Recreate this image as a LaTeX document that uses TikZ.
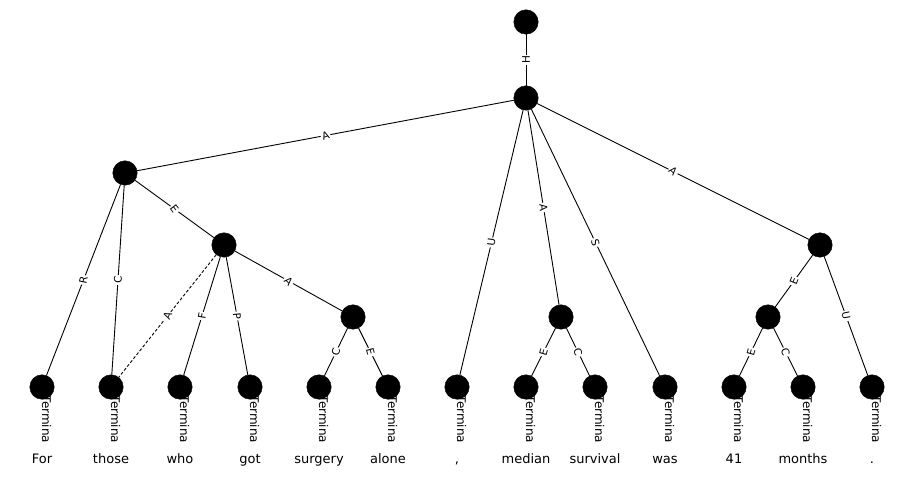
\documentclass[tikz,border=0pt]{standalone}
\usepackage{fontspec}
\setmainfont{DejaVu Sans}
\begin{document}
\begin{tikzpicture}[x=1pt,y=-1pt,
  dot/.style={circle,fill=black,draw=black,minimum size=24.5pt,inner sep=0pt},
  rel/.style={line width=0.9pt},
  lbl/.style={midway,fill=white,inner sep=1.2pt,font=\fontsize{10.5}{11}\selectfont},
  termtag/.style={rotate=-90,anchor=base west,inner sep=0pt,font=\fontsize{12}{12}\selectfont},
  word/.style={anchor=base,inner sep=0pt,font=\fontsize{13}{13}\selectfont}]
\useasboundingbox (0,0) rectangle (914,481);

% terminal tags (drawn first so the circles sit on top)
\foreach \i/\x in {1/42,2/111,3/180,4/250,5/319,6/388,7/457,8/526,9/595,10/665,11/734,12/803,13/872}
  \node[termtag] (tag\i) at (\x,395.5) {Termina};

% words under the leaves
\node[word] (w1)  at (42,463)  {For};
\node[word] (w2)  at (111,463) {those};
\node[word] (w3)  at (180,463) {who};
\node[word] (w4)  at (250,463) {got};
\node[word] (w5)  at (319,463) {surgery};
\node[word] (w6)  at (388,463) {alone};
\node[word] (w7)  at (457,463) {,};
\node[word] (w8)  at (526,463) {median};
\node[word] (w9)  at (595,463) {survival};
\node[word] (w10) at (665,463) {was};
\node[word] (w11) at (734,463) {41};
\node[word] (w12) at (803,463) {months};
\node[word] (w13) at (872,463) {.};

% inner nodes
\node[dot] (top)   at (526,22)  {};
\node[dot] (root)  at (526,98)  {};
\node[dot] (np)    at (125,173) {};
\node[dot] (rc)    at (224,245) {};
\node[dot] (sa)    at (353,317) {};
\node[dot] (ms)    at (561,317) {};
\node[dot] (dur)   at (820,245) {};
\node[dot] (fm)    at (768,317) {};

% leaves
\foreach \i/\x in {1/42,2/111,3/180,4/250,5/319,6/388,7/457,8/526,9/595,10/665,11/734,12/803,13/872}
  \node[dot] (l\i) at (\x,387) {};

% edges with their relation labels
\draw[rel] (top) -- node[lbl,rotate=90] {H} (root);
\draw[rel] (root) -- node[lbl,rotate=18.6] {A} (np);
\draw[rel] (root) -- node[lbl,rotate=82.4] {U} (l7);
\draw[rel] (root) -- node[lbl,rotate=-84.9] {A} (ms);
\draw[rel] (root) -- node[lbl,rotate=-75] {S} (l10);
\draw[rel] (root) -- node[lbl,rotate=-42] {A} (dur);
\draw[rel] (np) -- node[lbl,rotate=77.8] {R} (l1);
\draw[rel] (np) -- node[lbl,rotate=88] {C} (l2);
\draw[rel] (np) -- node[lbl,rotate=-52.6] {E} (rc);
\draw[rel,dash pattern=on 3pt off 2pt] (rc) -- node[lbl,rotate=66.2] {A} (l2);
\draw[rel] (rc) -- node[lbl,rotate=80.2] {F} (l3);
\draw[rel] (rc) -- node[lbl,rotate=-84.2] {P} (l4);
\draw[rel] (rc) -- node[lbl,rotate=-45.1] {A} (sa);
\draw[rel] (sa) -- node[lbl,rotate=74.9] {C} (l5);
\draw[rel] (sa) -- node[lbl,rotate=-74.5] {E} (l6);
\draw[rel] (ms) -- node[lbl,rotate=74.5] {E} (l8);
\draw[rel] (ms) -- node[lbl,rotate=-74.9] {C} (l9);
\draw[rel] (dur) -- node[lbl,rotate=68.1] {E} (fm);
\draw[rel] (dur) -- node[lbl,rotate=-78.5] {U} (l13);
\draw[rel] (fm) -- node[lbl,rotate=74.9] {E} (l11);
\draw[rel] (fm) -- node[lbl,rotate=-74.5] {C} (l12);
\end{tikzpicture}
\end{document}
